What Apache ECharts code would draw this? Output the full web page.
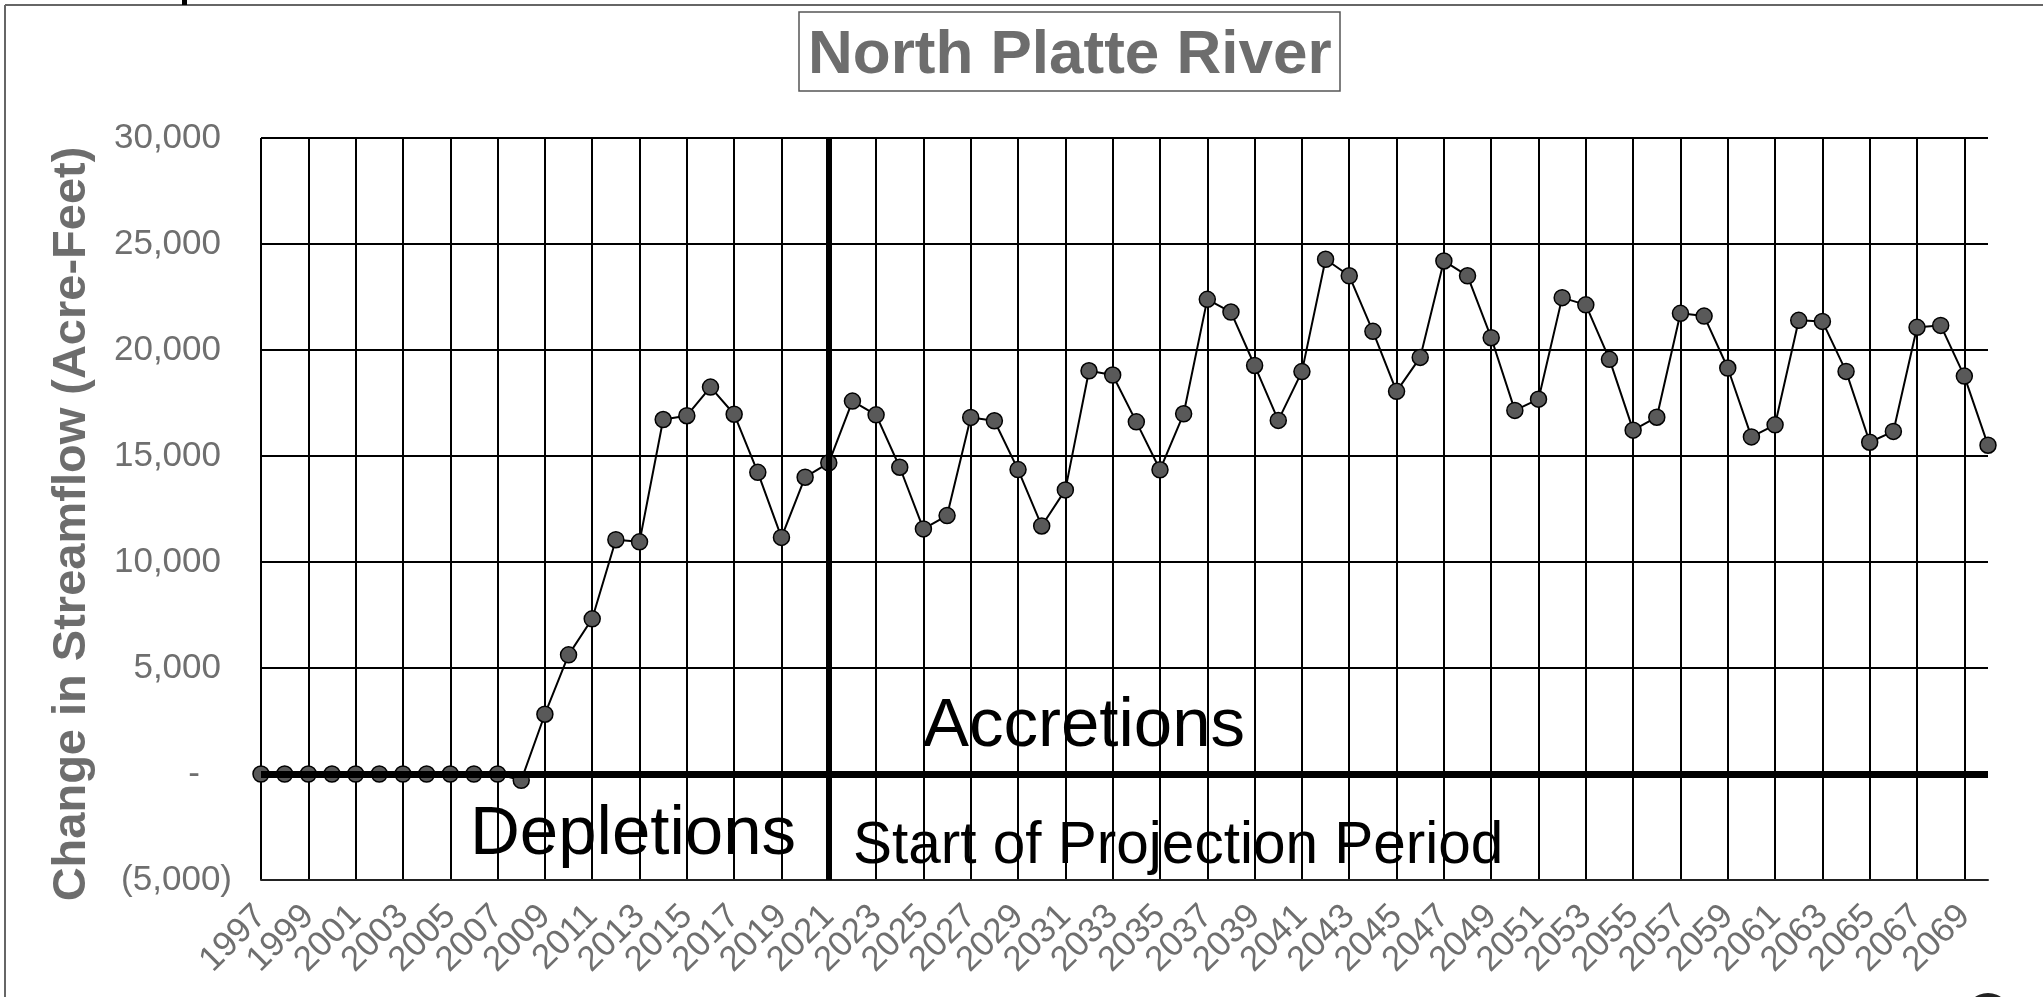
<!DOCTYPE html>
<html>
<head>
<meta charset="utf-8">
<script src="https://cdn.jsdelivr.net/npm/echarts@6/dist/echarts.min.js"></script>
<style>html,body{margin:0;padding:0;background:#fff;}#c{width:2043px;height:997px;}</style>
</head>
<body>
<div id="c"></div>
<script>
var years = [];
for (var y = 1997; y <= 2070; y++) years.push(String(y));

var streamflow = [
  0, 0, 0, 0, 0, 0, 0, 0, 0, 0, 0,          // 1997-2007
  -300, 2820, 5620, 7320, 11050, 10950,     // 2008-2013
  16720, 16900, 18250, 16970, 14230, 11160, 14000, // 2014-2020
  14680, 17590, 16940, 14470, 11560, 12190, 16820, 16660, 14360, 11700, // 2021-2030
  13400, 19020, 18820, 16610, 14350, 16990, 22390, 21790, 19270, 16680, // 2031-2040
  18980, 24280, 23500, 20880, 18050, 19650, 24200, 23500, 20580, 17150, // 2041-2050
  17680, 22470, 22130, 19560, 16220, 16830, 21730, 21600, 19150, 15900, // 2051-2060
  16470, 21400, 21350, 18990, 15650, 16160, 21070, 21160, 18770, 15510  // 2061-2070
];

var yTicks = [-5000, 0, 5000, 10000, 15000, 20000, 25000, 30000];
var projectionStart = '2021';
var titleText = 'North Platte River';
var yAxisTitle = 'Change in Streamflow (Acre-Feet)';
var noteAccretions = 'Accretions';
var noteDepletions = 'Depletions';
var noteProjection = 'Start of Projection Period';

var FONT = '"Liberation Sans", Arial, sans-serif';
var GREY = '#6f6f6f';

var chart = echarts.init(document.getElementById('c'), null, {renderer: 'canvas'});
chart.setOption({
  animation: false,
  backgroundColor: '#fff',
  title: {
    text: titleText,
    left: 799, top: 12,
    padding: [13, 9, 4, 9],
    borderColor: '#555', borderWidth: 1.5,
    textStyle: {fontFamily: FONT, fontSize: 62, fontWeight: 'bold', color: '#6d6d6d', lineHeight: 62}
  },
  grid: {left: 261, right: 55, top: 138, bottom: 117, containLabel: false},
  xAxis: {
    type: 'category',
    data: years,
    boundaryGap: false,
    axisLine: {show: true, onZero: false, lineStyle: {color: '#222', width: 2}},
    axisTick: {show: false, interval: 1},
    axisLabel: {
      interval: function () { return true; },
      formatter: function (v, i) { return i % 2 === 0 ? v : ''; },
      showMinLabel: true, showMaxLabel: false, hideOverlap: false,
      rotate: 45, margin: 31, color: GREY, fontFamily: FONT, fontSize: 35
    },
    splitLine: {show: true, interval: 1, lineStyle: {color: '#000', width: 2}}
  },
  yAxis: {
    type: 'value',
    min: yTicks[0], max: yTicks[yTicks.length - 1], interval: 5000,
    axisLine: {show: false},
    axisTick: {show: false},
    splitLine: {show: true, lineStyle: {color: '#000', width: 2}},
    axisLabel: {
      margin: 29, color: GREY, fontFamily: FONT, fontSize: 35,
      formatter: function (v) {
        if (v === 0) return '{d|-}';
        if (v < 0) return '{n|(' + Math.abs(v).toLocaleString('en-US') + ')}';
        return '{p|' + v.toLocaleString('en-US') + '}';
      },
      rich: {
        p: {color: GREY, fontFamily: FONT, fontSize: 35, padding: [0, 11, 0, 0]},
        n: {color: GREY, fontFamily: FONT, fontSize: 35},
        d: {color: GREY, fontFamily: FONT, fontSize: 35, padding: [0, 32, 0, 0]}
      }
    }
  },
  series: [
    {
      type: 'line',
      data: [],
      z: 1,
      silent: true,
      markLine: {
        silent: true,
        symbol: 'none',
        label: {show: false},
        animation: false,
        data: [
          {yAxis: 0, lineStyle: {color: '#000', width: 7, type: 'solid'}},
          {xAxis: projectionStart, lineStyle: {color: '#000', width: 6, type: 'solid'}}
        ]
      }
    },
    {
      type: 'line',
      data: streamflow,
      z: 3,
      symbol: 'circle',
      symbolSize: 16,
      showAllSymbol: true,
      lineStyle: {color: '#000', width: 2},
      itemStyle: {color: '#595959', borderColor: '#000', borderWidth: 1.5}
    }
  ],
  graphic: [
    {type: 'line', shape: {x1: 5, y1: 5, x2: 2043, y2: 5}, style: {stroke: '#666', lineWidth: 2}, silent: true},
    {type: 'line', shape: {x1: 5, y1: 5, x2: 5, y2: 997}, style: {stroke: '#666', lineWidth: 2}, silent: true},
    {type: 'rect', shape: {x: 182, y: 0, width: 5, height: 5}, style: {fill: '#000'}, silent: true},
    {type: 'circle', shape: {cx: 1988, cy: 1016, r: 23}, style: {fill: '#222'}, silent: true},
    {type: 'line', shape: {x1: 1988.5, y1: 140, x2: 1988.5, y2: 434}, style: {stroke: '#fff', lineWidth: 3}, silent: true},
    {type: 'line', shape: {x1: 1988.5, y1: 457, x2: 1988.5, y2: 878}, style: {stroke: '#fff', lineWidth: 3}, silent: true},
    {type: 'text', rotation: Math.PI / 2, x: 72, y: 524, z: 10,
      style: {text: yAxisTitle, font: 'bold 47px ' + FONT, fill: '#6d6d6d', textAlign: 'center', textVerticalAlign: 'middle'}},
    {type: 'text', x: 923, y: 727, z: 10,
      style: {text: noteAccretions, font: '69px ' + FONT, fill: '#000', textAlign: 'left', textVerticalAlign: 'middle'}},
    {type: 'text', x: 470, y: 835, z: 10,
      style: {text: noteDepletions, font: '69px ' + FONT, fill: '#000', textAlign: 'left', textVerticalAlign: 'middle'}},
    {type: 'text', x: 853, y: 847, z: 10,
      style: {text: noteProjection, font: '58.5px ' + FONT, fill: '#000', textAlign: 'left', textVerticalAlign: 'middle'}}
  ]
});
</script>
</body>
</html>
